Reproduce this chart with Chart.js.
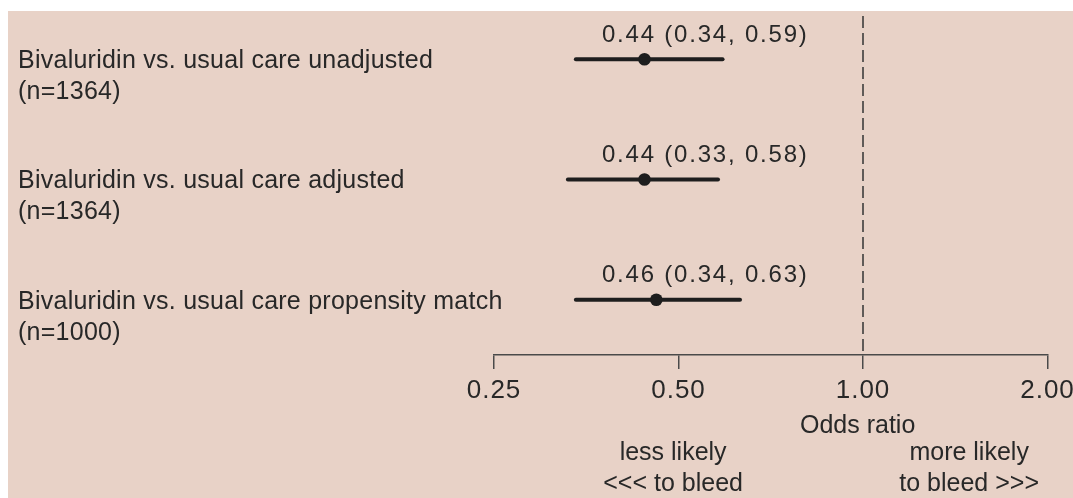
<!DOCTYPE html>
<html>
<head>
<meta charset="utf-8">
<title>Bivalirudin odds ratios for bleeding</title>
<script src="https://cdn.jsdelivr.net/npm/chart.js@4/dist/chart.umd.min.js"></script>
<style>
  html, body { margin: 0; padding: 0; background: #ffffff; }
  canvas { display: block; }
</style>
</head>
<body>
<canvas id="forest" width="1073" height="498"></canvas>
<script>
// Comparisons (one row each)
const categories = [
  'Bivaluridin vs. usual care unadjusted',
  'Bivaluridin vs. usual care adjusted',
  'Bivaluridin vs. usual care propensity match'
];
const sampleSizes = ['(n=1364)', '(n=1364)', '(n=1000)'];

// Odds ratios with 95% confidence limits
const oddsRatio = [0.44, 0.44, 0.46];
const ciLower   = [0.34, 0.33, 0.34];
const ciUpper   = [0.59, 0.58, 0.63];

// Log-scale tick values on the odds ratio axis
const xTicks = [0.25, 0.50, 1.00, 2.00];
const nullValue = 1.00;

const INK = '#282828';
const AXIS = '#4a4a4a';
const FONT = '"Liberation Sans", Arial, sans-serif';

const fmt = v => v.toFixed(2);

// One horizontal segment per confidence interval
const ciDatasets = categories.map((c, i) => ({
  label: c + ' CI',
  data: [{ x: ciLower[i], y: i }, { x: ciUpper[i], y: i }],
  showLine: true,
  borderColor: '#1e1e1e',
  borderWidth: 4,
  borderCapStyle: 'round',
  pointRadius: 0,
  pointHoverRadius: 0
}));

// Dashed no-effect line at OR = 1
const nullLine = {
  label: 'No effect',
  data: [{ x: nullValue, y: -0.36 }, { x: nullValue, y: 2.46 }],
  showLine: true,
  borderColor: '#333333',
  borderWidth: 1.5,
  borderDash: [12, 5],
  pointRadius: 0,
  pointHoverRadius: 0
};

const pointEstimates = {
  label: 'Odds ratio',
  data: oddsRatio.map((v, i) => ({ x: v, y: i })),
  showLine: false,
  pointRadius: 6.3,
  pointHoverRadius: 6.3,
  pointBackgroundColor: '#1e1e1e',
  pointBorderColor: '#1e1e1e',
  pointBorderWidth: 0
};

// Panel background; tick labels get a little tracking
const panelBackground = {
  id: 'panelBackground',
  beforeDraw(chart) {
    const ctx = chart.ctx;
    ctx.save();
    ctx.fillStyle = '#ffffff';
    ctx.fillRect(0, 0, chart.width, chart.height);
    ctx.fillStyle = '#e8d2c7';
    ctx.fillRect(8, 11, chart.width - 8, chart.height - 11);
    ctx.restore();
    ctx.letterSpacing = '1px';
  },
  beforeDatasetsDraw(chart) {
    chart.ctx.letterSpacing = '0px';
  }
};

// Row labels, estimate labels and the axis captions
const forestText = {
  id: 'forestText',
  afterDatasetsDraw(chart) {
    const ctx = chart.ctx;
    const xs = chart.scales.x;
    const ys = chart.scales.y;
    ctx.save();
    ctx.fillStyle = INK;
    ctx.textBaseline = 'middle';

    // comparison names, two lines each
    ctx.font = '25px ' + FONT;
    ctx.letterSpacing = '0.25px';
    ctx.textAlign = 'left';
    categories.forEach((c, i) => {
      const y = ys.getPixelForValue(i);
      ctx.fillText(c, 18, y + 2);
      ctx.fillText(sampleSizes[i], 18, y + 33);
    });

    // estimate (lower, upper) above each interval
    ctx.font = '24px ' + FONT;
    ctx.letterSpacing = '1.8px';
    const labelX = xs.getPixelForValue(0.375);
    oddsRatio.forEach((v, i) => {
      const y = ys.getPixelForValue(i);
      ctx.fillText(fmt(v) + ' (' + fmt(ciLower[i]) + ', ' + fmt(ciUpper[i]) + ')', labelX, y - 24);
    });

    // axis title and direction captions
    ctx.font = '25px ' + FONT;
    ctx.letterSpacing = '0px';
    ctx.textAlign = 'center';
    const base = chart.chartArea.bottom;
    ctx.fillText('Odds ratio', xs.getPixelForValue(0.98), base + 71);
    const lessX = xs.getPixelForValue(0.49);
    const moreX = xs.getPixelForValue(1.49);
    ctx.fillText('less likely', lessX, base + 98);
    ctx.fillText('<<< to bleed', lessX, base + 129);
    ctx.fillText('more likely', moreX, base + 98);
    ctx.fillText('to bleed >>>', moreX, base + 129);
    ctx.restore();
  }
};

new Chart(document.getElementById('forest'), {
  type: 'scatter',
  data: { datasets: [nullLine, ...ciDatasets, pointEstimates] },
  options: {
    responsive: false,
    devicePixelRatio: 1,
    animation: false,
    events: [],
    layout: { padding: { left: 494, right: 25.5, top: 16, bottom: 0 } },
    plugins: {
      legend: { display: false },
      tooltip: { enabled: false },
      title: { display: false }
    },
    scales: {
      x: {
        type: 'logarithmic',
        min: 0.25,
        max: 2,
        afterBuildTicks(scale) {
          scale.ticks = xTicks.map(v => ({ value: v }));
        },
        afterFit(scale) {
          scale.height = 143;
          scale.paddingLeft = 0;
          scale.paddingRight = 0;
        },
        ticks: {
          autoSkip: false,
          maxRotation: 0,
          padding: 6,
          color: INK,
          font: { family: FONT, size: 26 },
          callback: v => fmt(v)
        },
        grid: {
          display: true,
          drawOnChartArea: false,
          drawTicks: true,
          tickLength: 14,
          color: AXIS,
          lineWidth: 1.5
        },
        border: { display: true, color: AXIS, width: 1.5 }
      },
      y: {
        type: 'linear',
        display: false,
        reverse: true,
        min: -0.36,
        max: 2.46
      }
    }
  },
  plugins: [panelBackground, forestText]
});
</script>
</body>
</html>
